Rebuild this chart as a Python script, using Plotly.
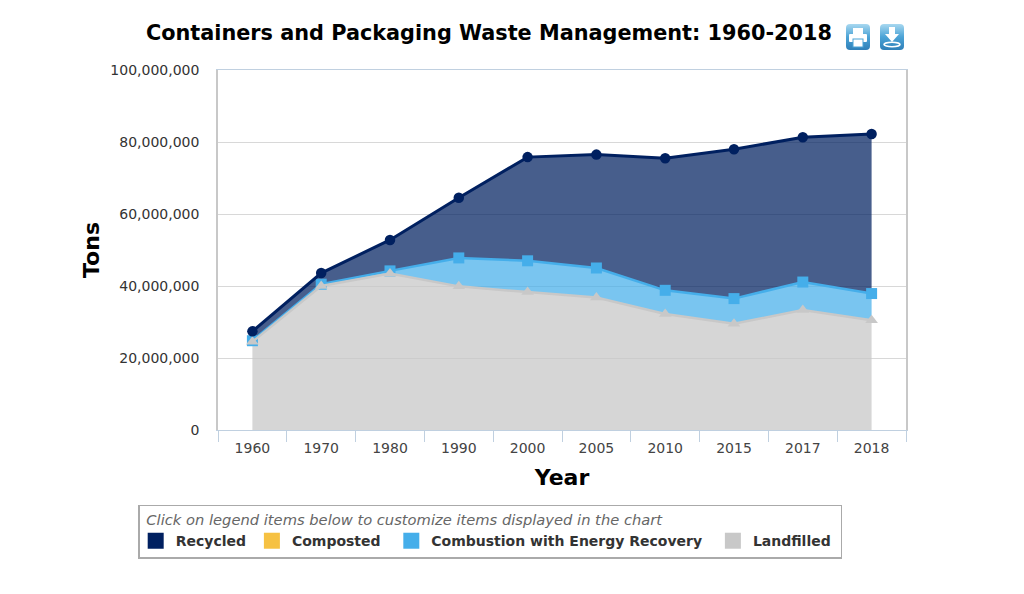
import base64
import plotly.graph_objects as go

years = ["1960", "1970", "1980", "1990", "2000", "2005", "2010", "2015", "2017", "2018"]
landfilled = [24500000, 40000000, 43500000, 39900000, 38300000, 36800000, 32200000, 29500000, 33300000, 30500000]
combustion = [300000, 500000, 700000, 7900000, 8700000, 8200000, 6600000, 7000000, 7800000, 7400000]
recycled = [2600000, 3100000, 8600000, 16700000, 28800000, 31500000, 36700000, 41500000, 40200000, 44300000]

NAVY = "#002060"
BLUE = "#45aeea"
GREY = "#c8c8c8"
YELLOW = "#f6c142"
FONT = "DejaVu Sans"
NB = "\u00a0"

PRINT_ICON = """<svg xmlns='http://www.w3.org/2000/svg' width='24' height='26' viewBox='0 0 24 26'>
<defs><linearGradient id='g' x1='0' y1='0' x2='0' y2='1'><stop offset='0' stop-color='#a8d8f0'/><stop offset='0.5' stop-color='#4ba3d6'/><stop offset='1' stop-color='#2f7fb8'/></linearGradient></defs>
<rect width='24' height='26' rx='4' fill='url(#g)'/>
<rect x='7' y='4' width='10' height='6' fill='white'/><rect x='3' y='10' width='18' height='8' rx='1' fill='white'/>
<rect x='7' y='15' width='10' height='8' fill='white' stroke='#4ba3d6'/></svg>"""
DOWNLOAD_ICON = """<svg xmlns='http://www.w3.org/2000/svg' width='24' height='26' viewBox='0 0 24 26'>
<defs><linearGradient id='g' x1='0' y1='0' x2='0' y2='1'><stop offset='0' stop-color='#a8d8f0'/><stop offset='0.5' stop-color='#4ba3d6'/><stop offset='1' stop-color='#2f7fb8'/></linearGradient></defs>
<rect width='24' height='26' rx='4' fill='url(#g)'/>
<path d='M9 3H15V10H19L12 18L5 10H9Z' fill='white'/><ellipse cx='12' cy='20.5' rx='8' ry='2.2' fill='none' stroke='white' stroke-width='1.6'/></svg>"""


def data_uri(svg):
    return "data:image/svg+xml;base64," + base64.b64encode(svg.encode()).decode()


fig = go.Figure()

# Stacked fills
for name, values, fill in [
    ("Landfilled", landfilled, "rgba(200,200,200,0.75)"),
    ("Combustion with Energy Recovery", combustion, "rgba(69,174,234,0.72)"),
    ("Recycled", recycled, "rgba(0,32,96,0.72)"),
]:
    fig.add_trace(go.Scatter(x=years, y=values, name=name, stackgroup="one", mode="none",
                             fillcolor=fill, showlegend=False, hoverinfo="skip"))

# Lines and markers above all the fills
top_landfill = landfilled
top_combustion = [a + b for a, b in zip(landfilled, combustion)]
top_recycled = [a + b for a, b in zip(top_combustion, recycled)]
for name, values, color, symbol, size, width in [
    ("Combustion with Energy Recovery", top_combustion, BLUE, "square", 11, 2.5),
    ("Landfilled", top_landfill, GREY, "triangle-up", 11, 2.5),
    ("Recycled", top_recycled, NAVY, "circle", 10.5, 3),
]:
    fig.add_trace(go.Scatter(x=years, y=values, name=name, mode="lines+markers",
                             line=dict(color=color, width=width),
                             marker=dict(color=color, symbol=symbol, size=size),
                             showlegend=False))

for name, pad, color in [("Recycled", 1, NAVY), ("Composted", 2, YELLOW),
                         ("Combustion with Energy Recovery", 2, BLUE), ("Landfilled", 1, GREY)]:
    fig.add_trace(go.Scatter(x=[None], y=[None], name=name + NB * pad, mode="markers",
                             marker=dict(color=color, symbol="square", size=16)))

fig.update_layout(
    width=1024, height=594, autosize=False,
    margin=dict(l=218, r=118, t=70, b=164, autoexpand=False),
    paper_bgcolor="white", plot_bgcolor="white",
    font=dict(family=FONT, color="#333333", size=14),
    title=dict(text="<b>Containers and Packaging Waste Management: 1960-2018</b>",
               font=dict(family=FONT, size=20.8, color="black"),
               x=489 / 1024, xanchor="center", y=1 - 33 / 594, yanchor="middle"),
    xaxis=dict(type="category", categoryorder="array", categoryarray=years, range=[-0.5, 9.5],
               tickson="boundaries", ticks="outside", ticklen=11, tickcolor="#c0d0e0", tickwidth=1,
               ticklabelstandoff=5, showgrid=False, showline=True, linecolor="#c0d0e0", linewidth=1,
               mirror=True, tickfont=dict(size=14, color="#444444"),
               title=dict(text="<b>Year</b>", font=dict(size=22, color="black"), standoff=14)),
    yaxis=dict(range=[0, 100000000], tickvals=[0, 20000000, 40000000, 60000000, 80000000, 100000000],
               tickformat=",d", ticks="", showgrid=True, gridcolor="#d8d8d8", gridwidth=1,
               ticklabelstandoff=14, zeroline=False, showline=True, linecolor="#c8c8c8", linewidth=1.5,
               mirror=True, tickfont=dict(size=14, color="#333333"),
               title=dict(text="<b>Tons</b>", font=dict(size=22, color="black"), standoff=5)),
    legend=dict(orientation="h", x=-0.116, xanchor="left", y=-0.207, yanchor="top",
                traceorder="normal", indentation=-4,
                bordercolor="#aaaaaa", borderwidth=1.5, bgcolor="white",
                font=dict(size=14, color="#333333", weight="bold"),
                title=dict(text=NB + "<i>Click on legend items below to customize items displayed in the chart</i>",
                           side="top", font=dict(size=14.7, color="#666666", weight="normal"))),
    images=[
        dict(source=data_uri(PRINT_ICON), xref="paper", yref="paper", x=(846 - 218) / 688, y=(430 - 24) / 360,
             sizex=24 / 688, sizey=26 / 360, xanchor="left", yanchor="top", sizing="stretch", layer="above"),
        dict(source=data_uri(DOWNLOAD_ICON), xref="paper", yref="paper", x=(880 - 218) / 688, y=(430 - 24) / 360,
             sizex=24 / 688, sizey=26 / 360, xanchor="left", yanchor="top", sizing="stretch", layer="above"),
    ],
)

fig.write_html("out.html", config={"displayModeBar": False},
               post_script="document.body.style.margin='0';window.dispatchEvent(new Event('resize'));")
